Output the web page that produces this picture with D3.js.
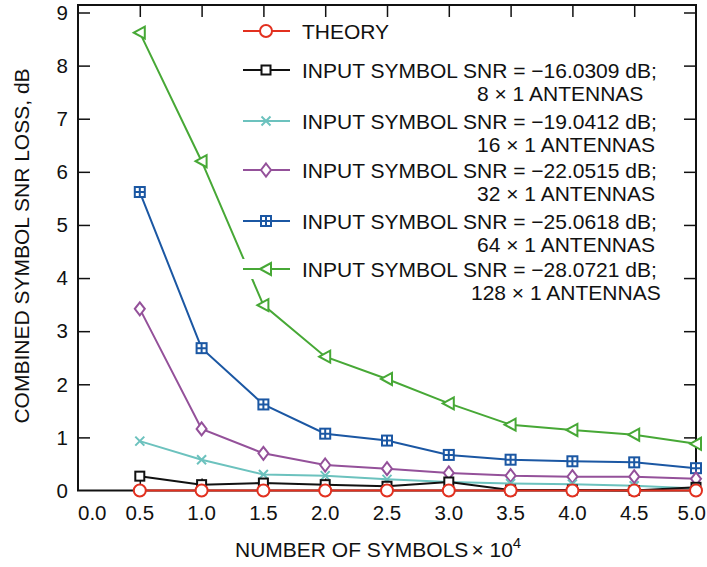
<!DOCTYPE html>
<html>
<head>
<meta charset="utf-8">
<script src="https://cdn.jsdelivr.net/npm/d3@7"></script>
<style>
  body { margin: 0; background: #fff; }
  svg text { font-family: "Liberation Sans", Arial, sans-serif; fill: #111; }
</style>
</head>
<body>
<svg width="707" height="567"></svg>
<script>
// number of symbols (x 10^4)
var symbols = [0.5, 1.0, 1.5, 2.0, 2.5, 3.0, 3.5, 4.0, 4.5, 5.0];

// combined symbol SNR loss, dB
var theory = [0, 0, 0, 0, 0, 0, 0, 0, 0, 0];
var loss8 = [0.27, 0.11, 0.14, 0.11, 0.08, 0.16, 0.01, 0.01, 0.0, 0.06];
var loss16 = [0.93, 0.58, 0.30, 0.28, 0.21, 0.16, 0.13, 0.12, 0.09, 0.04];
var loss32 = [3.42, 1.16, 0.70, 0.48, 0.41, 0.33, 0.28, 0.26, 0.26, 0.22];
var loss64 = [5.62, 2.68, 1.62, 1.07, 0.94, 0.67, 0.58, 0.55, 0.53, 0.42];
var loss128 = [8.62, 6.20, 3.49, 2.52, 2.10, 1.64, 1.24, 1.14, 1.05, 0.88];

var xTicks = [0.0, 0.5, 1.0, 1.5, 2.0, 2.5, 3.0, 3.5, 4.0, 4.5, 5.0];
var yTicks = [0, 1, 2, 3, 4, 5, 6, 7, 8, 9];

var legendTitles = [
  ["THEORY"],
  ["INPUT SYMBOL SNR = \u221216.0309 dB;", "8 \u00d7 1 ANTENNAS"],
  ["INPUT SYMBOL SNR = \u221219.0412 dB;", "16 \u00d7 1 ANTENNAS"],
  ["INPUT SYMBOL SNR = \u221222.0515 dB;", "32 \u00d7 1 ANTENNAS"],
  ["INPUT SYMBOL SNR = \u221225.0618 dB;", "64 \u00d7 1 ANTENNAS"],
  ["INPUT SYMBOL SNR = \u221228.0721 dB;", "128 \u00d7 1 ANTENNAS"]
];

var series = [
  { values: theory,  color: "#e2301f", marker: "circle" },
  { values: loss8,   color: "#111111", marker: "square" },
  { values: loss16,  color: "#6cc2be", marker: "cross" },
  { values: loss32,  color: "#94519a", marker: "diamond" },
  { values: loss64,  color: "#1b57a3", marker: "boxplus" },
  { values: loss128, color: "#47a836", marker: "triangle" }
];

var svg = d3.select("svg");
var pL = 78, pR = 696, pT = 5, pB = 490.5;

var x = d3.scaleLinear().domain([0, 5]).range([pL, pR]);
var y = d3.scaleLinear().domain([0, 9]).range([pB, 12.5]);

// inside ticks
var tl = 12;
svg.append("g").attr("transform", "translate(0," + pB + ")")
  .call(d3.axisBottom(x).tickValues(xTicks.slice(1, -1)).tickSizeInner(-tl).tickSizeOuter(0).tickFormat(""));
svg.append("g").attr("transform", "translate(0," + pT + ")")
  .call(d3.axisTop(x).tickValues(xTicks.slice(1, -1)).tickSizeInner(-tl).tickSizeOuter(0).tickFormat(""));
svg.append("g").attr("transform", "translate(" + pL + ",0)")
  .call(d3.axisLeft(y).tickValues(yTicks.slice(1)).tickSizeInner(-tl).tickSizeOuter(0).tickFormat(""));
svg.append("g").attr("transform", "translate(" + pR + ",0)")
  .call(d3.axisRight(y).tickValues(yTicks.slice(1)).tickSizeInner(-tl).tickSizeOuter(0).tickFormat(""));
svg.selectAll(".domain").remove();
svg.selectAll(".tick line").attr("stroke", "#111").attr("stroke-width", 1.5);

// frame
svg.append("rect")
  .attr("x", pL).attr("y", pT)
  .attr("width", pR - pL).attr("height", pB - pT)
  .attr("fill", "none").attr("stroke", "#111").attr("stroke-width", 2);

// tick labels
svg.selectAll(".xlab").data(xTicks).enter().append("text")
  .attr("x", function(d, i) { return i === xTicks.length - 1 ? 706 : x(d); })
  .attr("y", 520)
  .attr("text-anchor", function(d, i) { return i === 0 ? "start" : (i === xTicks.length - 1 ? "end" : "middle"); })
  .attr("font-size", 20.5)
  .text(function(d) { return d3.format(".1f")(d); });

svg.selectAll(".ylab").data(yTicks).enter().append("text")
  .attr("x", 68)
  .attr("y", function(d) { return y(d) + 7.3; })
  .attr("text-anchor", "end")
  .attr("font-size", 20.5)
  .text(function(d) { return d; });

// axis titles
var xt = svg.append("text").attr("x", 235).attr("y", 557).attr("font-size", 21);
xt.append("tspan").text("NUMBER OF SYMBOLS");
xt.append("tspan").attr("dx", 3).text("\u00d7 10");
xt.append("tspan").attr("dy", -9).attr("font-size", 15).text("4");

svg.append("text")
  .attr("transform", "translate(29,246) rotate(-90)")
  .attr("text-anchor", "middle")
  .attr("font-size", 21)
  .text("COMBINED SYMBOL SNR LOSS, dB");

// marker drawing
function drawMarker(g, type, color) {
  var sw = 2;
  if (type === "circle") {
    g.append("circle").attr("r", 6).attr("fill", "#fff").attr("stroke", color).attr("stroke-width", sw);
  } else if (type === "square") {
    g.append("rect").attr("x", -4.5).attr("y", -4.5).attr("width", 9).attr("height", 9)
      .attr("fill", "#fff").attr("stroke", color).attr("stroke-width", sw);
  } else if (type === "cross") {
    g.append("path").attr("d", "M-4.5,-4.5L4.5,4.5M-4.5,4.5L4.5,-4.5")
      .attr("stroke", color).attr("stroke-width", sw);
  } else if (type === "diamond") {
    g.append("path").attr("d", "M0,-6.5L5,0L0,6.5L-5,0Z")
      .attr("fill", "#fff").attr("stroke", color).attr("stroke-width", sw);
  } else if (type === "boxplus") {
    g.append("rect").attr("x", -5).attr("y", -5).attr("width", 10).attr("height", 10)
      .attr("fill", "#fff").attr("stroke", color).attr("stroke-width", sw);
    g.append("path").attr("d", "M-5,0L5,0M0,-5L0,5").attr("stroke", color).attr("stroke-width", 2);
  } else if (type === "triangle") {
    g.append("path").attr("d", "M-6,0L5,-6L5,6Z")
      .attr("fill", "#fff").attr("stroke", color).attr("stroke-width", sw);
  }
}

var line = d3.line()
  .x(function(d, i) { return x(symbols[i]); })
  .y(function(d) { return y(d); });

// draw from last to first so THEORY sits on top
series.slice().reverse().forEach(function(s) {
  svg.append("path").datum(s.values)
    .attr("d", line)
    .attr("fill", "none").attr("stroke", s.color).attr("stroke-width", 2);
  s.values.forEach(function(v, i) {
    var g = svg.append("g").attr("transform", "translate(" + x(symbols[i]) + "," + y(v) + ")");
    drawMarker(g, s.marker, s.color);
  });
});

// legend
var legendY = [31, 70, 121, 170, 221, 269];
series.forEach(function(s, i) {
  var ly = legendY[i];
  var g = svg.append("g");
  g.append("rect").attr("x", 240).attr("y", ly - 10).attr("width", 440).attr("height", 20).attr("fill", "#fff");
  g.append("line").attr("x1", 243).attr("x2", 290).attr("y1", ly).attr("y2", ly)
    .attr("stroke", s.color).attr("stroke-width", 2);
  drawMarker(g.append("g").attr("transform", "translate(266," + ly + ")"), s.marker, s.color);
  g.append("text").attr("x", 302).attr("y", ly + 7.5).attr("font-size", 21).text(legendTitles[i][0]);
  if (legendTitles[i][1]) {
    g.append("text").attr("x", i === 5 ? 471 : 477).attr("y", ly + 31).attr("font-size", 21)
      .text(legendTitles[i][1]);
  }
});
</script>
</body>
</html>
